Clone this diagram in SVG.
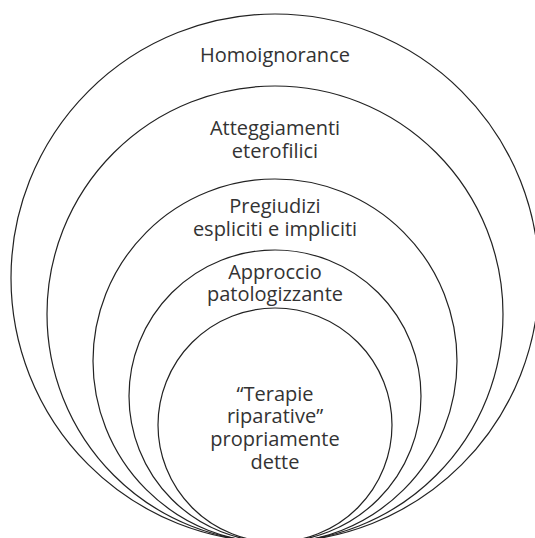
<svg xmlns="http://www.w3.org/2000/svg" width="535" height="538" viewBox="0 0 535 538">
<style>
.ring{fill:none;stroke:#222;stroke-width:1.2}
.lbl{font-family:"Open Sans","Noto Sans",sans-serif;font-size:20px;fill:#333;text-anchor:middle}
</style>
<rect width="535" height="538" fill="#fff"/>
<g id="ring1"><circle class="ring" cx="275" cy="278" r="264"/><text class="lbl" x="275" y="62">Homoignorance</text></g>
<g id="ring2"><circle class="ring" cx="275" cy="314" r="228"/><text class="lbl" x="275" y="135">Atteggiamenti</text><text class="lbl" x="275" y="158">eterofilici</text></g>
<g id="ring3"><circle class="ring" cx="275" cy="361" r="182"/><text class="lbl" x="275" y="213">Pregiudizi</text><text class="lbl" x="275" y="236">espliciti e impliciti</text></g>
<g id="ring4"><circle class="ring" cx="275" cy="396" r="146"/><text class="lbl" x="275" y="279">Approccio</text><text class="lbl" x="275" y="301">patologizzante</text></g>
<g id="ring5"><circle class="ring" cx="275" cy="425" r="117"/><text class="lbl" x="275" y="401">“Terapie</text><text class="lbl" x="275" y="423">riparative”</text><text class="lbl" x="275" y="446">propriamente</text><text class="lbl" x="275" y="469">dette</text></g>
<g id="connectors"/>
</svg>
